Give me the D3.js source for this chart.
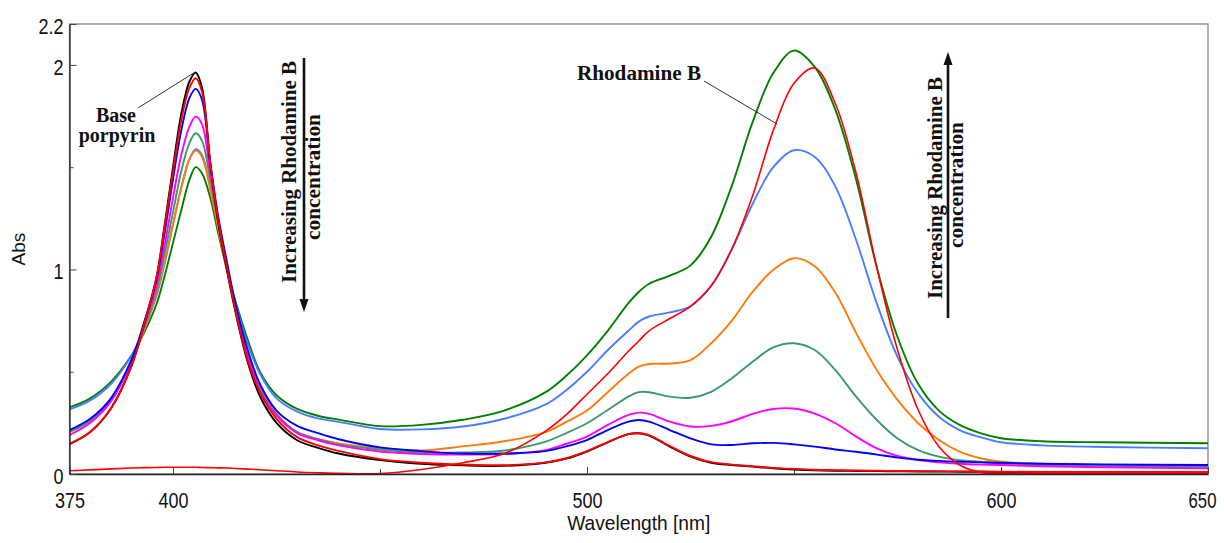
<!DOCTYPE html>
<html>
<head>
<meta charset="utf-8">
<script src="https://cdn.jsdelivr.net/npm/d3@7"></script>
<style>
	body { margin: 0; background: #fff; }
	svg { display: block; }
	.tick text { font-family: "Liberation Sans", Arial, sans-serif; fill: #111; }
	.axis-title { font-family: "Liberation Sans", Arial, sans-serif; fill: #111; }
	.note { font-family: "Liberation Serif", "Times New Roman", serif; font-weight: bold; fill: #111; }
</style>
</head>
<body>
<div id="viz"></div>
<script>
// wavelength grid (nm) shared by all spectra
var wavelengths = [375, 380, 385, 390, 393, 396, 398, 400, 402, 404,
	405.5, 407, 409, 411, 413, 415, 418, 421, 425, 430,
	435, 440, 450, 460, 470, 480, 490, 495, 500, 505,
	510, 512.5, 515, 520, 525, 530, 535, 540, 545, 550,
	555, 560, 565, 570, 575, 580, 585, 590, 595, 600,
	610, 625, 650];

// base porphyrin
var absBase = [0.146, 0.205, 0.32, 0.53, 0.73, 0.96, 1.22, 1.50, 1.76, 1.92,
	1.962, 1.89, 1.52, 1.22, 1.00, 0.80, 0.55, 0.38, 0.25, 0.165,
	0.128, 0.10, 0.068, 0.05, 0.042, 0.04, 0.055, 0.075, 0.11, 0.155,
	0.195, 0.199, 0.188, 0.134, 0.085, 0.055, 0.044, 0.036, 0.028, 0.022,
	0.018, 0.016, 0.015, 0.014, 0.013, 0.012, 0.012, 0.011, 0.011, 0.01,
	0.01, 0.009, 0.008];

// porphyrin + increasing amounts of Rhodamine B
var absMix1 = [0.147, 0.205, 0.32, 0.53, 0.73, 0.96, 1.21, 1.48, 1.73, 1.89,
	1.935, 1.87, 1.52, 1.23, 1.01, 0.81, 0.56, 0.40, 0.27, 0.18,
	0.14, 0.113, 0.073, 0.055, 0.046, 0.043, 0.057, 0.077, 0.112, 0.156,
	0.195, 0.199, 0.19, 0.137, 0.088, 0.058, 0.046, 0.038, 0.03, 0.025,
	0.021, 0.019, 0.017, 0.016, 0.015, 0.014, 0.013, 0.012, 0.012, 0.011,
	0.01, 0.01, 0.009];

var absMix2 = [0.215, 0.27, 0.37, 0.56, 0.74, 0.95, 1.18, 1.44, 1.68, 1.84,
	1.883, 1.83, 1.52, 1.25, 1.04, 0.84, 0.61, 0.44, 0.31, 0.235,
	0.2, 0.17, 0.13, 0.112, 0.10, 0.10, 0.112, 0.135, 0.166, 0.215,
	0.256, 0.264, 0.256, 0.215, 0.174, 0.145, 0.142, 0.15, 0.152, 0.145,
	0.134, 0.12, 0.109, 0.095, 0.08, 0.07, 0.064, 0.06, 0.057, 0.055,
	0.05, 0.047, 0.044];

var absMix3 = [0.19, 0.25, 0.355, 0.55, 0.72, 0.92, 1.12, 1.35, 1.56, 1.70,
	1.747, 1.71, 1.47, 1.23, 1.02, 0.82, 0.58, 0.41, 0.285, 0.20,
	0.165, 0.14, 0.11, 0.098, 0.095, 0.097, 0.117, 0.148, 0.183, 0.24,
	0.289, 0.30, 0.294, 0.256, 0.232, 0.235, 0.258, 0.294, 0.318, 0.32,
	0.295, 0.248, 0.183, 0.125, 0.088, 0.068, 0.057, 0.05, 0.046, 0.044,
	0.038, 0.033, 0.028];

var absMix4 = [0.207, 0.26, 0.365, 0.55, 0.71, 0.90, 1.08, 1.28, 1.48, 1.62,
	1.666, 1.63, 1.44, 1.22, 1.02, 0.82, 0.59, 0.42, 0.29, 0.205,
	0.17, 0.145, 0.12, 0.105, 0.105, 0.115, 0.158, 0.20, 0.248, 0.313,
	0.378, 0.40, 0.40, 0.378, 0.373, 0.402, 0.468, 0.549, 0.619, 0.639,
	0.606, 0.508, 0.378, 0.264, 0.174, 0.117, 0.085, 0.068, 0.06, 0.052,
	0.045, 0.04, 0.035];

var absMix5 = [0.205, 0.26, 0.365, 0.55, 0.70, 0.88, 1.04, 1.22, 1.40, 1.54,
	1.581, 1.55, 1.39, 1.19, 1.00, 0.82, 0.59, 0.42, 0.295, 0.205,
	0.172, 0.15, 0.126, 0.115, 0.135, 0.16, 0.205, 0.255, 0.31, 0.40,
	0.49, 0.525, 0.538, 0.54, 0.557, 0.639, 0.75, 0.89, 0.998, 1.055,
	1.016, 0.886, 0.69, 0.508, 0.362, 0.248, 0.166, 0.109, 0.077, 0.06,
	0.05, 0.044, 0.04];

var absMix6 = [0.316, 0.36, 0.44, 0.58, 0.71, 0.87, 1.03, 1.22, 1.40, 1.54,
	1.588, 1.56, 1.40, 1.20, 1.01, 0.84, 0.64, 0.49, 0.37, 0.305,
	0.272, 0.255, 0.22, 0.218, 0.232, 0.27, 0.34, 0.41, 0.50, 0.605,
	0.70, 0.745, 0.77, 0.79, 0.82, 0.92, 1.10, 1.32, 1.50, 1.583,
	1.55, 1.405, 1.144, 0.834, 0.573, 0.394, 0.28, 0.215, 0.18, 0.155,
	0.14, 0.132, 0.126];

var absMix7 = [0.326, 0.37, 0.45, 0.58, 0.69, 0.83, 0.97, 1.13, 1.29, 1.44,
	1.50, 1.47, 1.35, 1.17, 1.00, 0.85, 0.66, 0.50, 0.385, 0.318,
	0.285, 0.266, 0.234, 0.24, 0.265, 0.31, 0.40, 0.48, 0.58, 0.70,
	0.835, 0.89, 0.93, 0.97, 1.02, 1.16, 1.41, 1.72, 1.96, 2.07,
	1.99, 1.78, 1.44, 1.01, 0.67, 0.44, 0.31, 0.24, 0.20, 0.175,
	0.16, 0.155, 0.15];

// pure Rhodamine B
var absRhodamine = [0.016, 0.02, 0.025, 0.029, 0.031, 0.032, 0.033, 0.033, 0.033, 0.033,
	0.033, 0.032, 0.031, 0.03, 0.029, 0.027, 0.024, 0.021, 0.016, 0.01,
	0.006, 0.003, 0.002, 0.022, 0.055, 0.10, 0.21, 0.29, 0.39, 0.49,
	0.60, 0.65, 0.70, 0.76, 0.82, 0.92, 1.10, 1.36, 1.68, 1.91,
	1.985, 1.81, 1.47, 1.01, 0.607, 0.313, 0.134, 0.044, 0.008, 0.002,
	0.002, 0.002, 0.002];

var xLabelTicks = [375, 400, 500, 600, 650];
var xMinorTicks = [450, 550];
var yLabelTicks = [0, 1, 2, 2.2];
var yMinorTicks = [0.5, 1.5];

// drawing order: last one ends up on top
var series = [
	{ name: 'mix7', values: absMix7 },
	{ name: 'mix6', values: absMix6 },
	{ name: 'mix5', values: absMix5 },
	{ name: 'mix4', values: absMix4 },
	{ name: 'mix3', values: absMix3 },
	{ name: 'mix2', values: absMix2 },
	{ name: 'base', values: absBase },
	{ name: 'mix1', values: absMix1 },
	{ name: 'rhodamine', values: absRhodamine }
];

var seriesColor = {
	base: '#000000',
	mix1: '#ff0000',
	mix2: '#0000ff',
	mix3: '#ff00ff',
	mix4: '#3a9a6c',
	mix5: '#ff7a0a',
	mix6: '#4a7dff',
	mix7: '#008000',
	rhodamine: '#ff0000'
};

buildViz();

function buildViz(){

	var width = 1224,
		height = 543,
		margin = { top: 24, right: 16, bottom: 69, left: 69.5 };

	var svg = d3.select('#viz')
		.append('svg')
		.attr('width', width)
		.attr('height', height);

	var x = d3.scaleLinear()
		.domain([375, 650])
		.range([margin.left, width - margin.right]);

	var y = d3.scaleLinear()
		.domain([0, 2.2])
		.range([height - margin.bottom, margin.top]);

	// frame
	svg.append('rect')
		.attr('x', x(375))
		.attr('y', y(2.2))
		.attr('width', x(650) - x(375))
		.attr('height', y(0) - y(2.2))
		.style('fill', 'none')
		.style('stroke', '#7a7a7a')
		.style('stroke-width', 1.2);

	// spectra
	var line = d3.line()
		.x(function(d){ return x(d[0]); })
		.y(function(d){ return y(d[1]); })
		.curve(d3.curveCatmullRom.alpha(0.5));

	svg.append('g')
		.selectAll('path')
		.data(series)
		.enter()
		.append('path')
			.attr('d', function(s){
				return line(wavelengths.map(function(w, i){ return [w, s.values[i]]; }));
			})
			.style('fill', 'none')
			.style('stroke', function(s){ return seriesColor[s.name]; })
			.style('stroke-width', function(s){ return s.name === 'rhodamine' ? 1.6 : 1.9; })
			.style('stroke-linejoin', 'round');

	// axis X
	var axisX = svg.append('g')
		.attr('transform', 'translate(0,' + y(0) + ')');

	axisX.call(d3.axisBottom(x)
		.tickValues(xLabelTicks)
		.tickSizeInner(-7)
		.tickSizeOuter(0)
		.tickPadding(18)
		.tickFormat(d3.format('d')));

	axisX.append('g').call(d3.axisBottom(x)
		.tickValues(xMinorTicks)
		.tickSizeInner(-5)
		.tickSizeOuter(0)
		.tickFormat(''))
		.select('.domain').remove();

	// axis Y
	var axisY = svg.append('g')
		.attr('transform', 'translate(' + x(375) + ',0)');

	axisY.call(d3.axisLeft(y)
		.tickValues(yLabelTicks)
		.tickSizeInner(-7)
		.tickSizeOuter(0)
		.tickPadding(6)
		.tickFormat(d3.format('~g')));

	axisY.append('g').call(d3.axisLeft(y)
		.tickValues(yMinorTicks)
		.tickSizeInner(-4)
		.tickSizeOuter(0)
		.tickFormat(''))
		.select('.domain').remove();

	svg.selectAll('.domain').style('stroke', '#222').style('stroke-width', 1.3);
	svg.selectAll('.tick line').style('stroke', '#444');

	// narrow tall digits like the original
	svg.selectAll('.tick text')
		.style('font-size', '22px')
		.attr('lengthAdjust', 'spacingAndGlyphs')
		.attr('textLength', function(){
			var t = d3.select(this).text();
			return t.replace(/\./g, '').length * 10 + (t.indexOf('.') >= 0 ? 5 : 0);
		});
	axisY.selectAll('.tick text').attr('dy', '0.42em');

	// last label sits against the right edge
	axisX.selectAll('.tick text')
		.filter(function(d){ return d === 650; })
		.attr('text-anchor', 'end')
		.attr('x', 8)
		.attr('textLength', 28);

	// axis titles
	svg.append('text')
		.attr('class', 'axis-title')
		.attr('x', (x(375) + x(650)) / 2)
		.attr('y', 530)
		.attr('text-anchor', 'middle')
		.attr('textLength', 143)
		.attr('lengthAdjust', 'spacingAndGlyphs')
		.style('font-size', '21px')
		.text('Wavelength [nm]');

	svg.append('text')
		.attr('class', 'axis-title')
		.attr('transform', 'translate(25,' + ((y(0) + y(2.2)) / 2) + ') rotate(-90)')
		.attr('text-anchor', 'middle')
		.style('font-size', '19px')
		.text('Abs');

	// annotations
	var notes = svg.append('g');

	notes.append('line')
		.attr('x1', 138).attr('y1', 108)
		.attr('x2', x(405.5)).attr('y2', y(1.962) - 1)
		.style('stroke', '#333').style('stroke-width', 1);

	notes.append('text')
		.attr('class', 'note')
		.attr('x', 116).attr('y', 122)
		.attr('text-anchor', 'middle')
		.style('font-size', '20px')
		.text('Base');

	notes.append('text')
		.attr('class', 'note')
		.attr('x', 117).attr('y', 142)
		.attr('text-anchor', 'middle')
		.style('font-size', '20px')
		.text('porpyrin');

	notes.append('line')
		.attr('x1', 704).attr('y1', 81)
		.attr('x2', x(546)).attr('y2', y(1.71))
		.style('stroke', '#333').style('stroke-width', 1);

	notes.append('text')
		.attr('class', 'note')
		.attr('x', 577).attr('y', 80)
		.attr('textLength', 124)
		.attr('lengthAdjust', 'spacingAndGlyphs')
		.style('font-size', '20px')
		.text('Rhodamine B');

	// concentration arrows: left one points down, right one points up
	var arrows = [
		{ textX: 296, subX: 320, lineX: 304, top: 58, bottom: 312, textY: 172, subY: 177, dir: 'down' },
		{ textX: 942, subX: 963, lineX: 948, top: 52, bottom: 318, textY: 188, subY: 185, dir: 'up' }
	];

	arrows.forEach(function(a){
		var g = notes.append('g');
		var tip = a.dir === 'down' ? a.bottom : a.top;
		var back = a.dir === 'down' ? tip - 13 : tip + 13;

		g.append('line')
			.attr('x1', a.lineX).attr('y1', a.dir === 'down' ? a.top : back)
			.attr('x2', a.lineX).attr('y2', a.dir === 'down' ? back : a.bottom)
			.style('stroke', '#111').style('stroke-width', 2.6);

		g.append('path')
			.attr('d', 'M' + (a.lineX - 4.5) + ',' + back + 'L' + (a.lineX + 4.5) + ',' + back + 'L' + a.lineX + ',' + tip + 'Z')
			.style('fill', '#111');

		g.append('text')
			.attr('class', 'note')
			.attr('transform', 'translate(' + a.textX + ',' + a.textY + ') rotate(-90)')
			.attr('text-anchor', 'middle')
			.attr('textLength', 222)
			.attr('lengthAdjust', 'spacingAndGlyphs')
			.style('font-size', '20px')
			.text('Increasing Rhodamine B');

		g.append('text')
			.attr('class', 'note')
			.attr('transform', 'translate(' + a.subX + ',' + a.subY + ') rotate(-90)')
			.attr('text-anchor', 'middle')
			.attr('textLength', 126)
			.attr('lengthAdjust', 'spacingAndGlyphs')
			.style('font-size', '20px')
			.text('concentration');
	});
}
</script>
</body>
</html>
